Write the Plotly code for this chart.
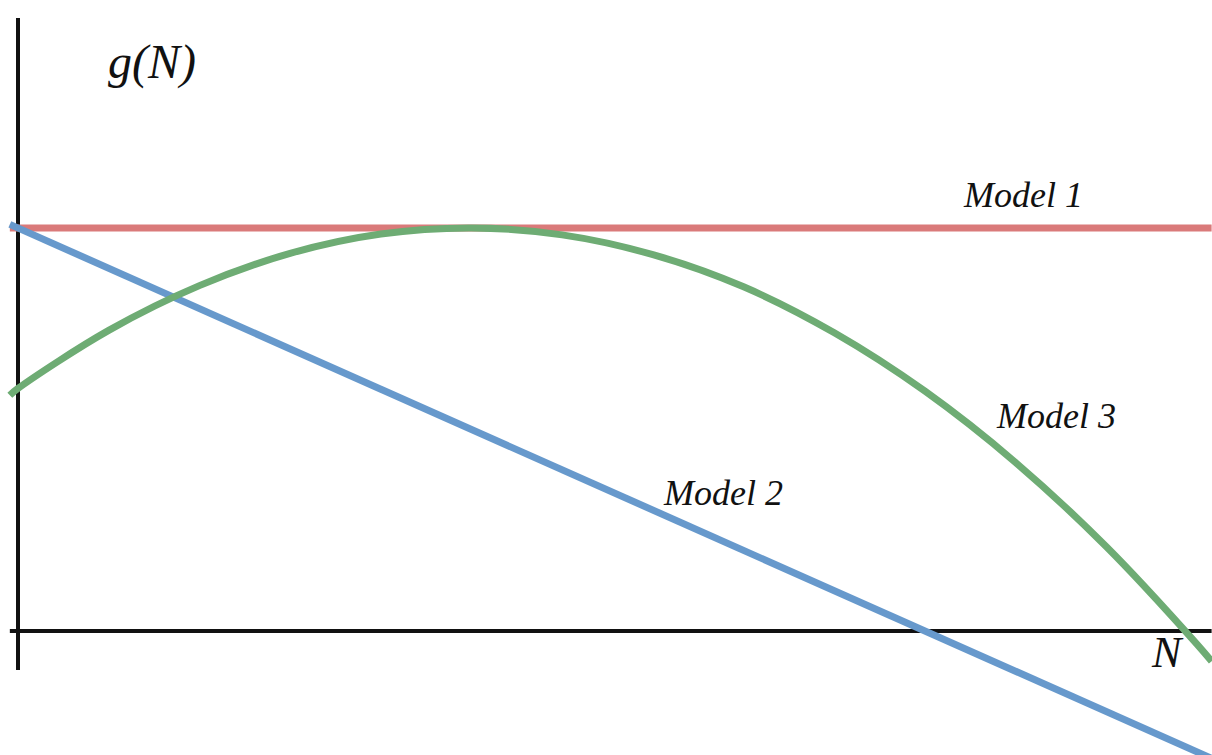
import plotly.graph_objects as go

# Data (N in units of K, g in units of r)
model1_N = [-0.009, 1.316]
model1_g = [1.0, 1.0]

model2_N = [-0.009, 1.316]
model2_g = [1.009, -0.316]

model3_N = [-0.009, 0.0, 0.1, 0.2, 0.3, 0.4, 0.5, 0.6, 0.7, 0.8, 0.9, 1.0, 1.1, 1.2, 1.3, 1.316]
model3_g = [0.585, 0.602, 0.746, 0.857, 0.937, 0.985, 1.0, 0.983, 0.934, 0.854, 0.740, 0.595, 0.418, 0.209, -0.033, -0.075]

labels = ["Model 1", "Model 2", "Model 3"]
label_N = [1.108, 0.777, 1.144]
label_g = [1.082, 0.342, 0.533]

colors = ["rgb(218,122,122)", "rgb(103,153,204)", "rgb(110,172,116)"]

W, H = 1212, 755
x_range = [-18 / 907, 1194 / 907]
y_range = [-124 / 403, 631 / 403]

fig = go.Figure()
for N, g, c, name in [(model1_N, model1_g, colors[0], labels[0]),
                      (model2_N, model2_g, colors[1], labels[1]),
                      (model3_N, model3_g, colors[2], labels[2])]:
    fig.add_trace(go.Scatter(x=N, y=g, mode="lines", name=name,
                             line=dict(color=c, width=7, shape="spline" if len(N) > 2 else "linear"),
                             hoverinfo="skip"))

# axes lines
fig.add_shape(type="line", x0=0, x1=0, y0=-0.097, y1=1.521, xref="x", yref="y",
              line=dict(color="#111111", width=4), layer="below")
fig.add_shape(type="line", x0=-0.009, x1=1.316, y0=0, y1=0, xref="x", yref="y",
              line=dict(color="#111111", width=4), layer="below")

for t, xn, yg in zip(labels, label_N, label_g):
    fig.add_annotation(x=xn, y=yg, text="<i>" + t + "</i>", showarrow=False, xref="x", yref="y",
                       font=dict(family="Liberation Serif", size=36, color="#111111"),
                       xanchor="center", yanchor="middle")

fig.add_annotation(x=152 / W, y=1 - 62 / H, xref="paper", yref="paper", text="<i>g(N)</i>",
                   showarrow=False, font=dict(family="Liberation Serif", size=48, color="#111111"),
                   xanchor="center", yanchor="middle")
fig.add_annotation(x=1167 / W, y=1 - 652 / H, xref="paper", yref="paper", text="<i>N</i>",
                   showarrow=False, font=dict(family="Liberation Serif", size=44, color="#111111"),
                   xanchor="center", yanchor="middle")

fig.update_layout(width=W, height=H, margin=dict(l=0, r=0, t=0, b=0),
                  paper_bgcolor="white", plot_bgcolor="white", showlegend=False,
                  xaxis=dict(range=x_range, visible=False, fixedrange=True),
                  yaxis=dict(range=y_range, visible=False, fixedrange=True))

fig.write_html("out.html", config={"displayModeBar": False},
               post_script="document.body.style.margin='0';document.body.style.overflow='hidden';")
